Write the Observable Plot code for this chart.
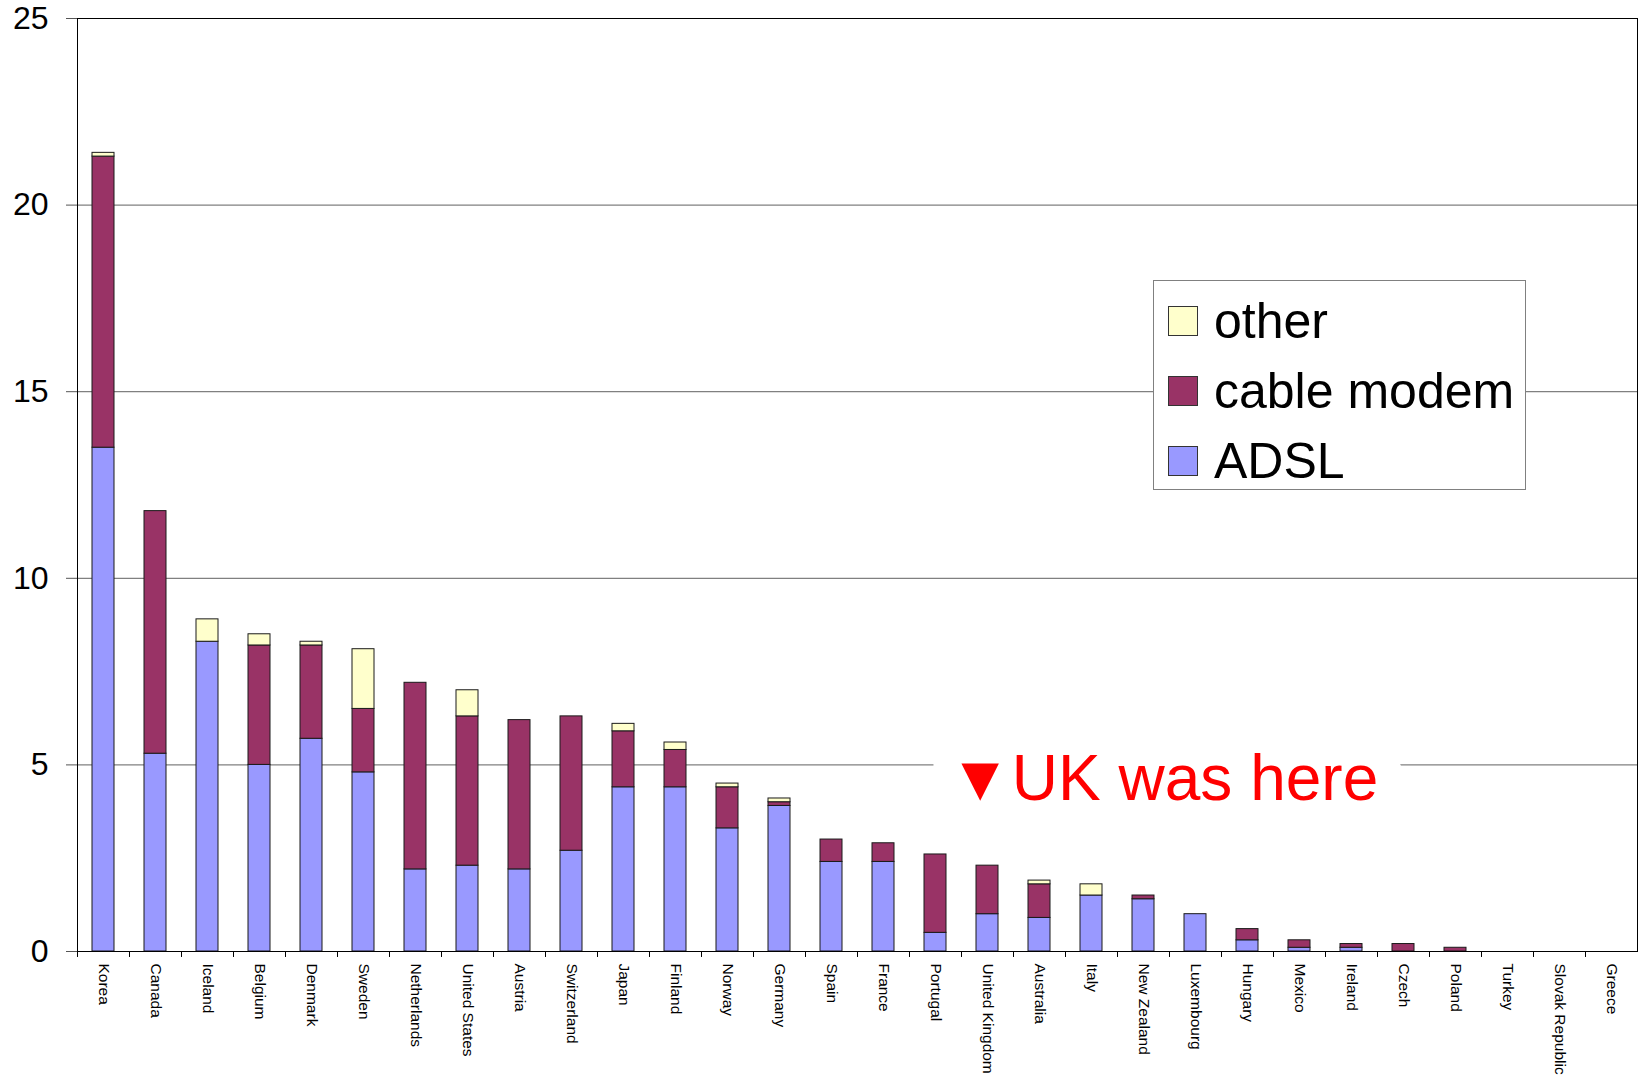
<!DOCTYPE html>
<html>
<head>
<meta charset="utf-8">
<script src="https://cdn.jsdelivr.net/npm/d3@7"></script>
<script src="https://cdn.jsdelivr.net/npm/@observablehq/plot@0.6"></script>
<style>
  html, body { margin: 0; padding: 0; background: #fff; }
  #wrap { position: relative; width: 1640px; height: 1084px; font-family: "Liberation Sans", Arial, sans-serif; }
  #legend { position: absolute; left: 1153px; top: 280px; width: 371px; height: 208px; background: #fff; border: 1px solid #808080; }
  .row { position: absolute; left: 14px; height: 60px; display: flex; align-items: center; }
  .sw { width: 30px; height: 30px; border: 1px solid #333; box-sizing: border-box; margin-right: 16px; }
  .lab { font-size: 50px; line-height: 60px; color: #000; }
</style>
</head>
<body>
<div id="wrap"></div>
<script>
const countries = ["Korea","Canada","Iceland","Belgium","Denmark","Sweden","Netherlands","United States","Austria","Switzerland","Japan","Finland","Norway","Germany","Spain","France","Portugal","United Kingdom","Australia","Italy","New Zealand","Luxembourg","Hungary","Mexico","Ireland","Czech","Poland","Turkey","Slovak Republic","Greece"];
const adsl  = [13.5,5.3,8.3,5.0,5.7,4.8,2.2,2.3,2.2,2.7,4.4,4.4,3.3,3.9,2.4,2.4,0.5,1.0,0.9,1.5,1.4,1.0,0.3,0.1,0.1,0,0,0,0,0];
const cable = [7.8,6.5,0,3.2,2.5,1.7,5.0,4.0,4.0,3.6,1.5,1.0,1.1,0.1,0.6,0.5,2.1,1.3,0.9,0,0.1,0,0.3,0.2,0.1,0.2,0.1,0,0,0];
const other = [0.1,0,0.6,0.3,0.1,1.6,0,0.7,0,0,0.2,0.2,0.1,0.1,0,0,0,0,0.1,0.3,0,0,0,0,0,0,0,0,0,0];
const seriesNames = ["ADSL","cable modem","other"];
const seriesColors = ["#9999FF","#993366","#FFFFCC"];
const legendOrder = ["other","cable modem","ADSL"];
const yTicks = [0,5,10,15,20,25];
const annotation = [{country: "United Kingdom", value: 5, label: "▼UK was here"}];

const rows = [];
countries.forEach((c, i) => {
  [adsl, cable, other].forEach((arr, k) => {
    if (arr[i] > 0) rows.push({country: c, series: seriesNames[k], value: arr[i]});
  });
});

const chart = Plot.plot({
  width: 1640,
  height: 1084,
  marginLeft: 77,
  marginRight: 3,
  marginTop: 18,
  marginBottom: 133,
  style: {fontFamily: "'Liberation Sans', Arial, sans-serif", background: "#fff", color: "#000"},
  x: {domain: countries, paddingInner: 0.58, paddingOuter: 0.29, label: null},
  y: {domain: [0, 25], label: null},
  color: {domain: seriesNames, range: seriesColors},
  marks: [
    Plot.ruleY([5, 10, 15, 20], {stroke: "#808080", strokeWidth: 1.2}),
    Plot.barY(rows, {x: "country", y: "value", fill: "series", stroke: "#1a1a1a", strokeWidth: 1, order: seriesNames}),
    Plot.axisY({ticks: yTicks, tickSize: 11, tickPadding: 18, fontSize: 32, label: null, stroke: "#555"}),
    Plot.axisX({tickSize: 0, tickRotate: 90, tickPadding: 12, fontSize: 15.5, label: null}),
    Plot.ruleX(countries, {x: d => d, y1: 0, y2: -0.16, dx: -26, stroke: "#000"}),
    Plot.frame({stroke: "#000"}),
    Plot.text(annotation, {x: "country", y: "value", text: "label", textAnchor: "start", lineAnchor: "middle", dx: -39, dy: 15, fontSize: 64, fill: "#ff0000", stroke: "#fff", strokeWidth: 56})
  ]
});

const wrap = document.getElementById("wrap");
wrap.appendChild(chart);

const legend = document.createElement("div");
legend.id = "legend";
legendOrder.forEach((name, i) => {
  const row = document.createElement("div");
  row.className = "row";
  row.style.top = (10 + i * 70) + "px";
  const sw = document.createElement("div");
  sw.className = "sw";
  sw.style.background = seriesColors[seriesNames.indexOf(name)];
  const lab = document.createElement("span");
  lab.className = "lab";
  lab.textContent = name;
  row.appendChild(sw);
  row.appendChild(lab);
  legend.appendChild(row);
});
wrap.appendChild(legend);
</script>
</body>
</html>
